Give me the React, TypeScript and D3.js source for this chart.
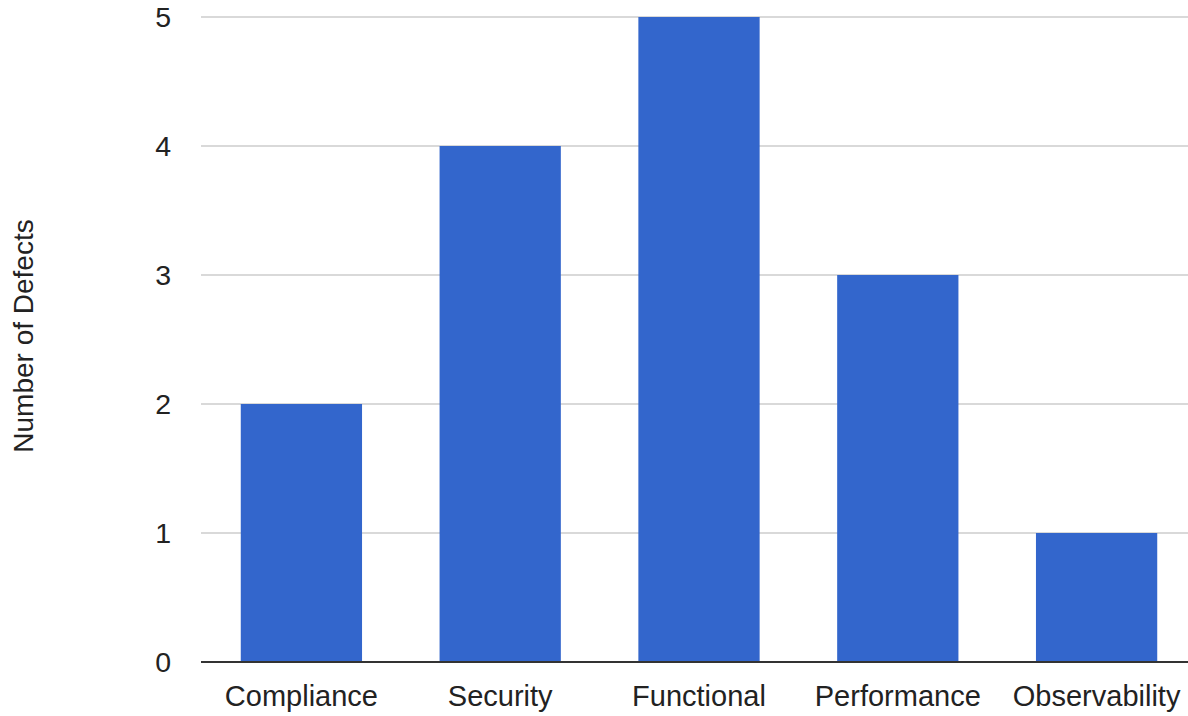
import React from "react";
import * as d3 from "d3";

const categories = ["Compliance", "Security", "Functional", "Performance", "Observability"];
const defects = [2, 4, 5, 3, 1];
const yTicks = [0, 1, 2, 3, 4, 5];

const W = 1188;
const H = 716;
const FONT = "'Liberation Sans', Arial, sans-serif";

export default function App() {
  const x = d3.scaleBand<string>().domain(categories).range([202, 1196]).paddingInner(0.39).paddingOuter(0.195);
  const y = d3.scaleLinear().domain([0, 5]).range([662, 17]);
  return (
    <svg width={W} height={H} style={{ position: "absolute", left: 0, top: 0, background: "#fff" }}>
      <rect x={0} y={0} width={W} height={H} fill="#fff" />
      {yTicks.map((t) => (
        <g key={t}>
          {t > 0 && <line x1={201} x2={1196} y1={y(t)} y2={y(t)} stroke="#cccccc" strokeWidth={1.5} />}
          <text x={171} y={y(t)} dy="0.36em" textAnchor="end" fontFamily={FONT} fontSize={28.5} fill="#222">
            {t}
          </text>
        </g>
      ))}
      {categories.map((c, i) => (
        <rect key={c} x={x(c)} y={y(defects[i])} width={x.bandwidth()} height={y(0) - y(defects[i])} fill="#3366cc" />
      ))}
      <line x1={201} x2={1196} y1={y(0)} y2={y(0)} stroke="#333" strokeWidth={2} />
      {categories.map((c) => (
        <text key={c} x={(x(c) as number) + x.bandwidth() / 2} y={706} textAnchor="middle" fontFamily={FONT} fontSize={29} fill="#222">
          {c}
        </text>
      ))}
      <text transform={`translate(33,336) rotate(-90)`} textAnchor="middle" fontFamily={FONT} fontSize={28} fill="#222">
        Number of Defects
      </text>
    </svg>
  );
}
